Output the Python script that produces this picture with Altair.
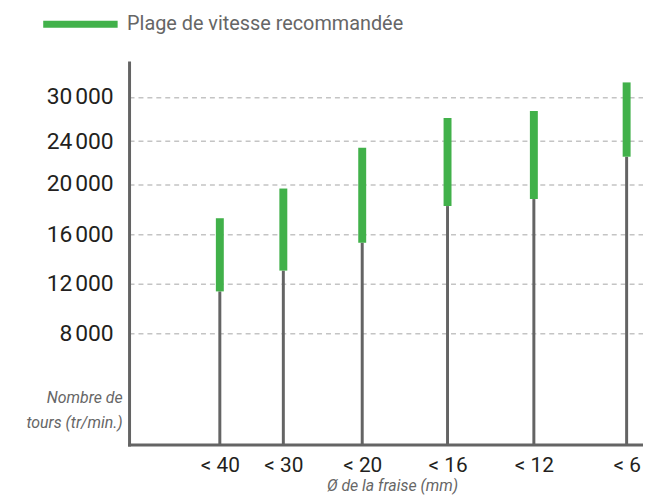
import json
import altair as alt
import pandas as pd

# ---- data ----
categories = ["< 40", "< 30", "< 20", "< 16", "< 12", "< 6"]
speed_low = [11350, 13030, 15300, 18240, 18800, 22550]
speed_high = [17270, 19640, 23380, 27130, 28080, 31980]
y_ticks = [8000, 12000, 16000, 20000, 24000, 30000]
legend_label = "Plage de vitesse recommandée"

df = pd.DataFrame({
    "idx": list(range(len(categories))),
    "cat": categories,
    "low": speed_low,
    "high": speed_high,
    "serie": [legend_label] * len(categories),
})

FONT = "Roboto"
AXIS_GRAY = "#646464"
GREEN = "#41b14a"

W, H = 518, 385

# piecewise scales (the reference axes are not linear)
x_scale = alt.Scale(
    domain=[-1.4, 0, 1, 2, 3, 4, 5, 5.2],
    range=[0, 91.5, 155.5, 235, 321, 408, 501.5, W],
    zero=False, nice=False,
)
y_scale = alt.Scale(
    domain=[0, 8000, 12000, 16000, 20000, 24000, 30000, 34700],
    range=[H, 273, 222.5, 173, 122.5, 79.3, 34.7, 0],
    zero=False, nice=False,
)

label_expr = json.dumps(categories) + "[datum.value]"

x_axis = alt.Axis(
    values=list(range(len(categories))),
    labelExpr=label_expr,
    ticks=False, grid=False,
    domainColor=AXIS_GRAY, domainWidth=3, domainCap="square",
    labelFont=FONT, labelFontSize=21, labelColor="#231f20", labelPadding=10,
    title="Ø de la fraise (mm)", titleFont=FONT, titleFontSize=16,
    titleFontStyle="italic", titleFontWeight="normal", titleColor="#666666",
    titleX=265, titleY=46, titleBaseline="alphabetic",
)
y_axis = alt.Axis(
    values=y_ticks,
    labelExpr="replace(format(datum.value, ','), ',', '\u202f')",
    ticks=False,
    domainColor=AXIS_GRAY, domainWidth=3, domainCap="square",
    grid=True, gridColor="#c4c4c4", gridDash=[5, 4], gridWidth=1.5,
    labelFont=FONT, labelFontSize=23, labelColor="#231f20", labelPadding=16,
    title=["Nombre de", "tours (tr/min.)"], titleFont=FONT, titleFontSize=16,
    titleFontStyle="italic", titleFontWeight="normal", titleColor="#666666",
    titleAngle=0, titleAlign="right", titleBaseline="alphabetic",
    titleX=-7, titleY=343, titleLineHeight=25,
)

base = alt.Chart(df)

stems = base.mark_rule(color=AXIS_GRAY, strokeWidth=3).encode(
    x=alt.X("idx:Q", scale=x_scale, axis=x_axis),
    y=alt.Y("low:Q", scale=y_scale, axis=y_axis),
    y2=alt.datum(0),
)

ranges = base.mark_rule(strokeWidth=8, strokeCap="butt").encode(
    x=alt.X("idx:Q", scale=x_scale, axis=x_axis),
    y=alt.Y("low:Q", scale=y_scale, axis=y_axis),
    y2="high:Q",
    color=alt.Color(
        "serie:N",
        scale=alt.Scale(domain=[legend_label], range=[GREEN]),
        legend=alt.Legend(
            title=None, orient="none", legendX=-90, legendY=-79.5,
            symbolType="stroke", symbolSize=5625, symbolStrokeWidth=7,
            labelFont=FONT, labelFontSize=20, labelColor="#666666",
            labelOffset=6, labelLimit=0, padding=0,
        ),
    ),
)

chart = alt.layer(stems, ranges).properties(
    width=W, height=H,
    autosize=alt.AutoSizeParams(type="none"),
    padding={"left": 122, "top": 53, "right": 0, "bottom": 49},
).configure_view(stroke=None)

chart.save("out.html", embed_options={"renderer": "svg", "actions": False})
